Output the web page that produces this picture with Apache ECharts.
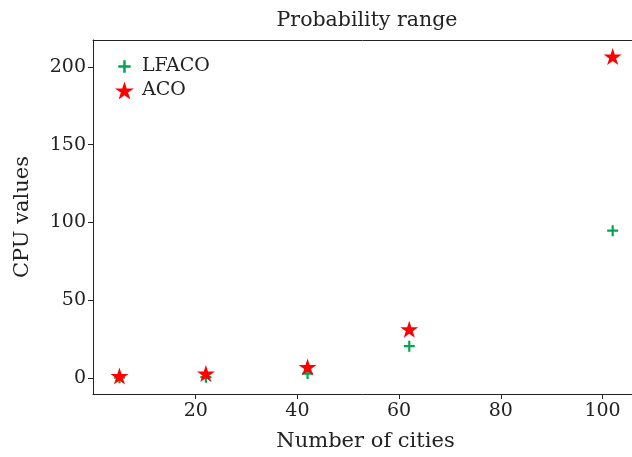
<!DOCTYPE html>
<html>
<head>
<meta charset="utf-8">
<script src="https://cdn.jsdelivr.net/npm/echarts@6/dist/echarts.min.js"></script>
<style>
  html, body { margin: 0; padding: 0; background: #fff; }
  #chart { width: 632px; height: 457px; }
</style>
</head>
<body>
<div id="chart"></div>
<script>
const cities   = [5, 22, 42, 62, 102]
const lfaco    = [0.1, 0.5, 2.8, 20.4, 94.7]
const aco      = [1.2, 2.8, 7, 31.3, 206.7]
const xTicks   = [20, 40, 60, 80, 100]
const yTicks   = [0, 50, 100, 150, 200]

const FONT = 'DejaVu Serif'
const STAR = 'path://M0,-1L0.2245,-0.309L0.951,-0.309L0.363,0.118L0.588,0.809L0,0.382L-0.588,0.809L-0.363,0.118L-0.951,-0.309L-0.2245,-0.309Z'
const PLUS = 'path://M-1,-0.2L-0.2,-0.2L-0.2,-1L0.2,-1L0.2,-0.2L1,-0.2L1,0.2L0.2,0.2L0.2,1L-0.2,1L-0.2,0.2L-1,0.2Z'
// same plus with a wider (empty) box so the legend icon stays small
const PLUS_L = 'path://M-1.45,-1.45L-1.45,-1.45M1.45,1.45L1.45,1.45M-1,-0.2L-0.2,-0.2L-0.2,-1L0.2,-1L0.2,-0.2L1,-0.2L1,0.2L0.2,0.2L0.2,1L-0.2,1L-0.2,0.2L-1,0.2Z'

const axisCommon = {
  axisLine: { show: true, onZero: false, lineStyle: { color: '#222', width: 1 } },
  axisTick: { show: true, inside: false, length: 5, lineStyle: { color: '#222' } },
  axisLabel: { color: '#222', fontFamily: FONT, fontSize: 19 },
  splitLine: { show: false },
}

const chart = echarts.init(document.getElementById('chart'), null, { renderer: 'canvas' })
chart.setOption({
  backgroundColor: '#fff',
  animation: false,
  title: {
    text: 'Probability range', left: 362, top: 5, textAlign: 'center',
    textStyle: { fontFamily: FONT, fontWeight: 'normal', fontSize: 20.5, color: '#222' },
  },
  grid: { left: 93, right: 0, top: 40, bottom: 63 },
  legend: {
    orient: 'vertical', left: 110, top: 52, itemGap: 5, itemWidth: 25, itemHeight: 18,
    textStyle: { fontFamily: FONT, fontSize: 19, color: '#222' },
    data: [{ name: 'LFACO', icon: PLUS_L }, { name: 'ACO', icon: STAR }],
  },
  xAxis: [{
    ...axisCommon, type: 'value', min: -0.2, max: 105.8,
    name: 'Number of cities', nameLocation: 'middle', nameGap: 37,
    nameTextStyle: { fontFamily: FONT, fontSize: 21, color: '#222', padding: [0, 0, 0, 6] },
    axisTick: { ...axisCommon.axisTick, customValues: xTicks },
    axisLabel: { ...axisCommon.axisLabel, margin: 8, customValues: xTicks },
  }, {
    type: 'value', position: 'top', min: -0.2, max: 105.8,
    axisLine: { show: true, onZero: false, lineStyle: { color: '#222', width: 1 } },
    axisTick: { show: false }, axisLabel: { show: false }, splitLine: { show: false },
  }],
  yAxis: {
    ...axisCommon, type: 'value', min: -10.35, max: 217.35,
    name: 'CPU values', nameLocation: 'middle', nameGap: 60,
    nameTextStyle: { fontFamily: FONT, fontSize: 21, color: '#222' },
    axisTick: { ...axisCommon.axisTick, customValues: yTicks },
    axisLabel: { ...axisCommon.axisLabel, margin: 7, customValues: yTicks },
  },
  series: [
    { name: 'LFACO', type: 'scatter', symbol: PLUS, symbolSize: 11, z: 2,
      itemStyle: { color: '#00a650', opacity: 1 },
      data: cities.map((c, i) => [c, lfaco[i]]) },
    { name: 'ACO', type: 'scatter', symbol: STAR, symbolSize: [18, 17], z: 3,
      itemStyle: { color: '#ff0000', opacity: 1 },
      data: cities.map((c, i) => [c, aco[i]]) },
  ],
})
</script>
</body>
</html>
